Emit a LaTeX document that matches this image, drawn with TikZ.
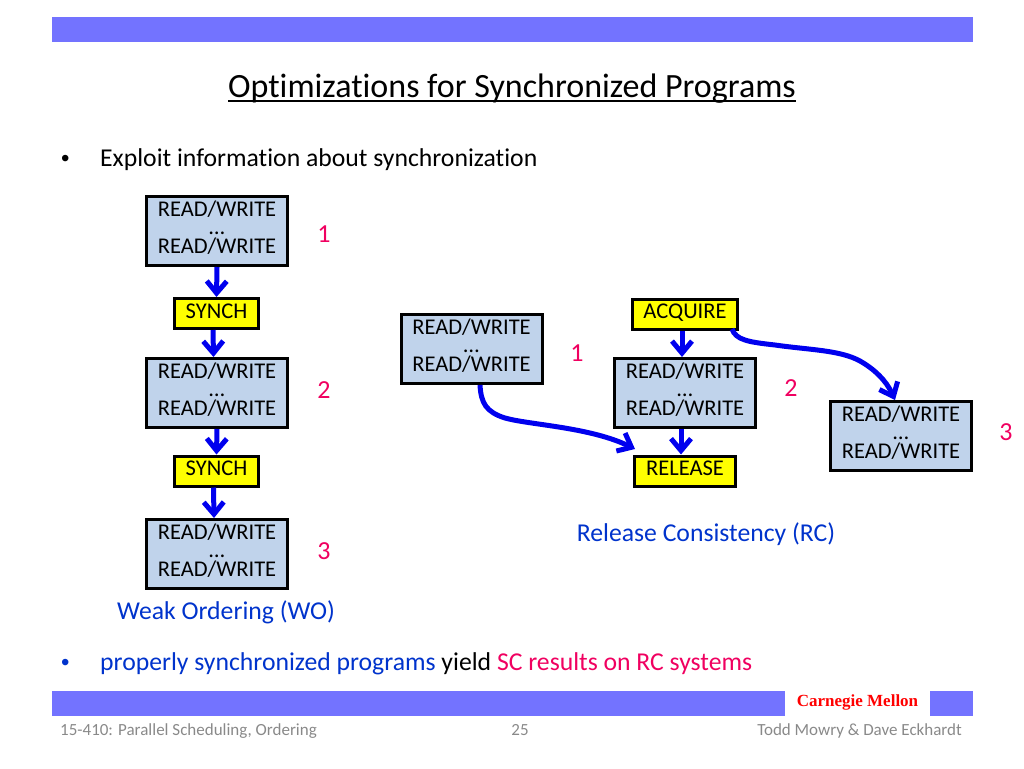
\documentclass[tikz,border=0pt]{standalone}
\usepackage{fontspec}
\setmainfont[RawFeature={-liga}]{Carlito}
\newfontfamily\cmufont{Liberation Serif}
\newfontfamily\bulfont{Liberation Sans}
\usetikzlibrary{arrows.meta}
\definecolor{barc}{HTML}{7373FF}
\definecolor{boxc}{HTML}{C0D3EB}
\definecolor{synchc}{HTML}{FFFF00}
\definecolor{bluec}{HTML}{0033CC}
\definecolor{arrc}{HTML}{0000EE}
\definecolor{redc}{HTML}{F00060}
\definecolor{greyc}{HTML}{898989}
\newcommand{\rwtext}{READ/WRITE\\[1pt]…\\[2pt]READ/WRITE\rule[-7pt]{0pt}{1pt}}
\newcommand{\syncstrut}{\rule[-5pt]{0pt}{1pt}}
\newcommand{\thickul}[1]{\setbox0\hbox{#1}\rlap{\rule[-4.5pt]{\wd0}{1.7pt}}\box0 }
\tikzset{
  rw/.style={draw=black,fill=boxc,line width=3pt,minimum width=141pt,minimum height=69pt,inner sep=0pt,align=center,font=\fontsize{22.5}{17}\selectfont},
  sync/.style={draw=black,fill=synchc,line width=3pt,inner sep=0pt,align=center,font=\fontsize{22.5}{25}\selectfont,minimum height=30pt},
  flow/.style={draw=arrc,line width=5pt,-{Straight Barb[length=12pt,width=20pt,line width=5pt]}},
  bar/.style={fill=barc,draw=none,inner sep=0pt},
  numlab/.style={text=redc,font=\fontsize{26}{28}\selectfont,inner sep=0pt},
  txt/.style={font=\fontsize{25.7}{28}\selectfont,inner sep=0pt,anchor=base west},
  foot/.style={text=greyc,font=\fontsize{17}{20}\selectfont,inner sep=0pt}
}
\begin{document}
\begin{tikzpicture}[x=1pt,y=-1pt]
\useasboundingbox (0,0) rectangle (1024,768);
% bars
\node[bar,minimum width=921pt,minimum height=25pt] (topbar) at (512.5,29.5) {};
\node[bar,minimum width=733pt,minimum height=25pt] (botbarA) at (418.5,703.5) {};
\node[bar,minimum width=43pt,minimum height=25pt] (botbarB) at (951.5,703.5) {};
\node[text=red,font=\cmufont\bfseries\fontsize{17}{18}\selectfont,inner sep=0pt] (cmu) at (857.5,702) {Carnegie Mellon};
% title
\node[font=\fontsize{34}{38}\selectfont,inner sep=0pt,anchor=base] (title) at (512,97) {\thickul{Optimizations for Synchronized Programs}};
% bullets
\node[txt,font=\bulfont\fontsize{24}{28}\selectfont] (b1dot) at (61,166) {•};
\node[txt] (b1) at (100,166) {Exploit information about synchronization};
\node[txt,font=\bulfont\fontsize{24}{28}\selectfont,text=bluec] (b2dot) at (61,670) {•};
\node[txt] (b2) at (100,670) {\textcolor{bluec}{properly synchronized programs} yield \textcolor{redc}{SC results on RC systems}};
% weak ordering
\node[rw] (wa) at (217,231) {\rwtext};
\node[sync,minimum width=84pt] (sa) at (216.5,313.5) {SYNCH\syncstrut};
\node[rw] (wb) at (217,393) {\rwtext};
\node[sync,minimum width=84pt] (sb) at (216.5,471) {SYNCH\syncstrut};
\node[rw] (wc) at (217,554) {\rwtext};
\node[numlab] (n1) at (324,234) {1};
\node[numlab] (n2) at (324,390) {2};
\node[numlab] (n3) at (324,551) {3};
\node[text=bluec,font=\fontsize{25.7}{28}\selectfont,inner sep=0pt] (wo) at (226,612) {Weak Ordering (WO)};
% release consistency
\node[rw] (ra) at (471.5,349) {\rwtext};
\node[sync,minimum width=105pt] (acq) at (685,314) {ACQUIRE\syncstrut};
\node[rw] (rb) at (685,393) {\rwtext};
\node[sync,minimum width=101pt] (rel) at (685,471) {RELEASE\syncstrut};
\node[rw] (rc) at (901,436) {\rwtext};
\node[numlab] (n4) at (577,353) {1};
\node[numlab] (n5) at (791,388) {2};
\node[numlab] (n6) at (1006,432) {3};
\node[text=bluec,font=\fontsize{25.7}{28}\selectfont,inner sep=0pt] (rcl) at (706,534) {Release Consistency (RC)};
% footer
\node[foot,anchor=base west] (fa) at (60,735) {15-410: Parallel Scheduling, Ordering};
\node[foot,anchor=base] (fb) at (520,735) {25};
\node[foot,anchor=base east] (fc) at (962,735) {Todd Mowry \& Dave Eckhardt};
% connectors
\draw[flow] (wa.south) -- (sa.north);
\draw[flow] ([xshift=-3.5pt]sa.south) -- ([xshift=-3.5pt]wb.north);
\draw[flow] (wb.south) -- (sb.north);
\draw[flow] ([xshift=-3pt]sb.south) -- ([xshift=-3pt]wc.north);
\draw[flow] ([xshift=-3pt]acq.south) -- ([xshift=-3pt]rb.north);
\draw[flow] ([xshift=-4pt]rb.south) -- ([xshift=-4pt]rel.north);
\coordinate (relin) at (635,449);
\coordinate (acqout) at (732,329);
\draw[flow] ([xshift=8.5pt]ra.south) .. controls (481,403) and (486,412) .. (505,418)
  .. controls (530,425) and (590,427) .. (relin);
\draw[flow] (acqout) .. controls (736,340) and (748,342) .. (775,345)
  .. controls (810,350) and (840,350) .. (860,361) .. controls (874,369) and (886,380) .. ([xshift=-6pt]rc.north);
\end{tikzpicture}
\end{document}
